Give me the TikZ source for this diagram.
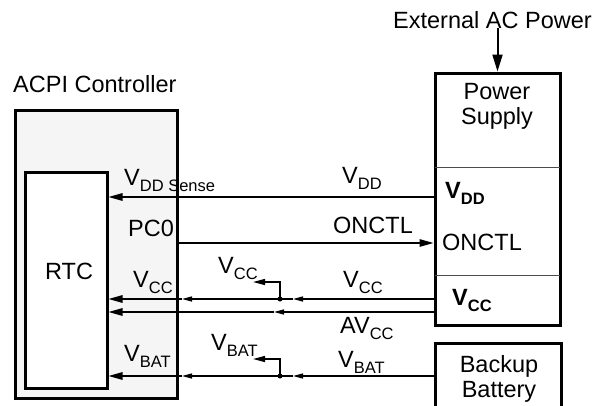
\documentclass[tikz,border=0pt]{standalone}
\usepackage{fontspec}
\setmainfont{Liberation Sans}
\usetikzlibrary{arrows.meta,positioning}
\newcommand{\vsub}[1]{\raisebox{-6pt}{\fontsize{16.5}{16.5}\selectfont #1}}

\begin{document}
\begin{tikzpicture}[x=1pt, y=-1pt,
  font=\fontsize{23.5}{25}\selectfont, >={Triangle[length=14pt,width=7.5pt]},
  blk/.style={draw, line width=3pt, inner sep=0pt},
  sig/.style={line width=1.4pt},
  mid/.style={sig, -{Triangle[length=10pt,width=5pt]}},
  br/.style={sig, -{Triangle[length=12pt,width=6pt]}},
  lbl/.style={anchor=base west, inner sep=0pt},
  txt/.style={anchor=base, inner sep=0pt},
  dot/.style={circle, fill, inner sep=0pt, minimum size=5pt}]
\useasboundingbox (0,0) rectangle (597,405);
% blocks
\node[blk, fill=black!4, minimum width=162pt, minimum height=288pt] (acpi) at (96,254) {};
\node[blk, fill=white, minimum width=82pt, minimum height=216pt] (rtc) at (66,280) {};
\node[blk, fill=white, minimum width=125pt, minimum height=252pt] (ps) at (497.5,199) {};
\node[blk, fill=white, minimum width=126pt, minimum height=70pt] (bat) at (498,378) {};
\draw[line width=0.8pt, black!70] (435,167) -- (560,167) (435,275) -- (560,275);
% texts
\node[lbl] (acpitxt) at (13,92) {ACPI Controller};
\node[lbl] (ext) at (393,28) {External AC Power};
\node[lbl] (rtctxt) at (45,279) {RTC};
\node[txt] (pwr) at (497,99) {Power};
\node[txt] (sup) at (497,124) {Supply};
\node[txt] (bk) at (499,372) {Backup};
\node[txt] (bt) at (499,397) {Battery};
\node[lbl] (vddsense) at (124,185) {V\vsub{DD Sense}};
\node[lbl] (pc0) at (128,236) {PC0};
\node[lbl] (vccin) at (133,287) {V\vsub{CC}};
\node[lbl] (vbatin) at (124,361) {V\vsub{BAT}};
\node[lbl] (vccbr) at (218,273) {V\vsub{CC}};
\node[lbl] (vbatbr) at (211,350) {V\vsub{BAT}};
\node[lbl] (vddl) at (342,183) {V\vsub{DD}};
\node[lbl] (onl) at (333,233) {ONCTL};
\node[lbl] (vccl) at (343,287) {V\vsub{CC}};
\node[lbl] (avccl) at (340,333) {AV\vsub{CC}};
\node[lbl] (vbatl) at (338,367) {V\vsub{BAT}};
\node[lbl, font=\fontsize{23.5}{25}\selectfont\bfseries] (vddp) at (445,198) {V\vsub{DD}};
\node[lbl] (onp) at (442,250) {ONCTL};
\node[lbl, font=\fontsize{23.5}{25}\selectfont\bfseries] (vccp) at (452,305) {V\vsub{CC}};
% rails
\coordinate (yvdd) at (0,197); \coordinate (yon) at (0,243);
\coordinate (yvcc) at (0,299); \coordinate (yav) at (0,312); \coordinate (ybat) at (0,376);
\coordinate (m1) at (293,299); \coordinate (m2) at (182,299);
\coordinate (m3) at (274,312);
\coordinate (m4) at (293,376); \coordinate (m5) at (182,376);
\coordinate (b1) at (253,282); \coordinate (b2) at (253,359);
\node[dot] (j1) at (280,299) {};
\node[dot] (j2) at (280,376) {};
% connectors
\draw[line width=2pt, -{Triangle[length=17pt,width=10pt]}] (ps.north |- ext.south) -- (ps.north);
\draw[sig,->] (ps.west |- yvdd) -- (rtc.east |- yvdd);
\draw[sig,->] (acpi.east |- yon) -- (ps.west |- yon);
\draw[mid] (ps.west |- yvcc) -- (m1); \draw[mid] (m1) -- (m2); \draw[sig,->] (m2) -- (rtc.east |- yvcc);
\draw[mid] (ps.west |- yav) -- (m3); \draw[sig,->] (m3) -- (rtc.east |- yav);
\draw[mid] (bat.west |- ybat) -- (m4); \draw[mid] (m4) -- (m5); \draw[sig,->] (m5) -- (rtc.east |- ybat);
\draw[br] (j1.center) |- (b1);
\draw[br] (j2.center) |- (b2);
\end{tikzpicture}
\end{document}
